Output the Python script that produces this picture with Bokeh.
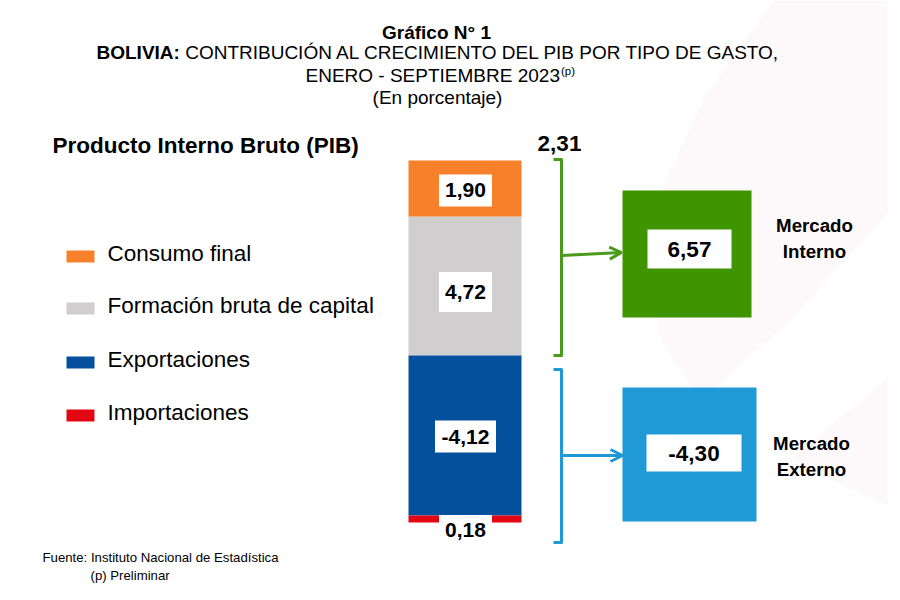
from bokeh.plotting import figure
from bokeh.models import Range1d, Arrow, OpenHead
from bokeh.core.properties import value
from bokeh.embed import file_html
from bokeh.resources import INLINE

# ---------------- data ----------------
componentes = ["Consumo final", "Formación bruta de capital", "Exportaciones", "Importaciones"]
contribucion = [1.90, 4.72, -4.12, -0.18]
etiquetas = ["1,90", "4,72", "-4,12", "0,18"]
colores = ["#F7812B", "#D0CECF", "#05509C", "#E30613"]
mercados = ["Mercado\nInterno", "Mercado\nExterno"]
mercado_valores = [6.57, -4.30]
mercado_etiquetas = ["6,57", "-4,30"]
total_etiqueta = "2,31"

titulo1 = "Gráfico N° 1"
titulo2a = "BOLIVIA:"
titulo2b = "CONTRIBUCIÓN AL CRECIMIENTO DEL PIB POR TIPO DE GASTO,"
titulo3 = "ENERO - SEPTIEMBRE 2023"
titulo4 = "(En porcentaje)"
subtitulo = "Producto Interno Bruto (PIB)"
fuente1 = "Fuente: Instituto Nacional de Estadística"
fuente2 = "(p) Preliminar"

# ---------------- layout ----------------
W, H = 900, 600
ZERO_Y = 355.0           # page y of the zero line
POS_PX = 195.0 / 6.62    # px per unit above zero
NEG_PX = 167.0 / 4.30    # px per unit below zero
BAR_X, BAR_W = 464.5, 113

SANS = "Liberation Sans"

p = figure(width=W, height=H, x_range=Range1d(0, W), y_range=Range1d(H, 0),
           x_axis_type=None, y_axis_type=None, min_border=0,
           toolbar_location=None, output_backend="svg",
           outline_line_color=None, background_fill_color="white")
p.grid.visible = False
p.extra_y_ranges = {
    "pos": Range1d((ZERO_Y - H) / POS_PX, ZERO_Y / POS_PX),
    "neg": Range1d((ZERO_Y - H) / NEG_PX, ZERO_Y / NEG_PX),
}

# very faint background watermark
WM = "#FDF8F9"
p.patch([773, 887, 887, 790, 700, 660, 648, 660, 705],
        [0, 0, 213, 320, 400, 340, 270, 190, 95],
        fill_color=WM, line_color=None)
p.patch([887, 790, 887], [377, 460, 505], fill_color=WM, line_color=None)


def txt(x, y, s, size, bold=False, align="left", **kw):
    p.text(x=[x], y=[y], text=[s], text_align=align, text_baseline="middle",
           text_font=value(SANS), text_font_style="bold" if bold else "normal",
           text_font_size=f"{size}px", text_color="black", **kw)


# ---------------- stacked bar ----------------
pos_idx = [i for i in range(len(contribucion)) if contribucion[i] > 0][::-1]
neg_idx = [i for i in range(len(contribucion)) if contribucion[i] < 0]

segs = {}
base = 0.0
for i in pos_idx:
    segs[i] = ("pos", base, base + contribucion[i])
    base += contribucion[i]
base = 0.0
for i in neg_idx:
    segs[i] = ("neg", base + contribucion[i], base)
    base += contribucion[i]

for i, (rng, b, t) in segs.items():
    p.vbar(x=[BAR_X], width=BAR_W, bottom=[b], top=[t], fill_color=colores[i],
           line_color=None, y_range_name=rng)

label_boxes = {0: (53, 32, -2), 1: (53, 40, -6), 2: (61, 32, -1), 3: (53, 29, 0)}
for i, (rng, b, t) in segs.items():
    w, h, dy = label_boxes[i]
    yc = (b + t) / 2
    if i == 3:
        yc = b - 7 / NEG_PX  # label sits just under the thin red segment
    elif rng == "pos":
        yc = yc + dy / POS_PX
    else:
        yc = yc + dy / NEG_PX
    p.rect(x=[BAR_X + 0.5], y=[yc], width=w, height=h, width_units="screen",
           height_units="screen", fill_color="white", line_color=None, y_range_name=rng)
    p.text(x=[BAR_X + 0.5], y=[yc], text=[etiquetas[i]], text_align="center",
           text_baseline="middle", text_font=value(SANS), text_font_style="bold",
           text_font_size="21px", text_color="black", y_range_name=rng)

txt(559, 143, total_etiqueta, 22.5, bold=True, align="center")

# ---------------- brackets & arrows ----------------
GREEN_L, BLUE_L = "#4A9A1C", "#1F98D6"
p.line([553, 561, 561, 553], [159, 159, 355, 355], line_color=GREEN_L, line_width=3, line_join="round")
p.add_layout(Arrow(end=OpenHead(size=12, line_color=GREEN_L, line_width=3),
                   x_start=561, y_start=255, x_end=621, y_end=252,
                   line_color=GREEN_L, line_width=3))
p.line([553, 561, 561, 553], [369, 369, 542, 542], line_color=BLUE_L, line_width=3, line_join="round")
p.add_layout(Arrow(end=OpenHead(size=12, line_color=BLUE_L, line_width=3),
                   x_start=561, y_start=455, x_end=622, y_end=455,
                   line_color=BLUE_L, line_width=3))

# ---------------- market boxes ----------------
box_cfg = [
    dict(l=622, r=751, t=190, b=317, color="#3F9500", il=647, ir=731, it=229, ib=268, tx=814, ty=238),
    dict(l=622, r=756, t=387, b=521, color="#1F9AD6", il=646, ir=741, it=434, ib=471, tx=811, ty=456),
]
for k, cfg in enumerate(box_cfg):
    p.quad(left=[cfg["l"]], right=[cfg["r"]], top=[cfg["t"]], bottom=[cfg["b"]],
           fill_color=cfg["color"], line_color=None)
    p.quad(left=[cfg["il"]], right=[cfg["ir"]], top=[cfg["it"]], bottom=[cfg["ib"]],
           fill_color="white", line_color=None)
    txt((cfg["il"] + cfg["ir"]) / 2, (cfg["it"] + cfg["ib"]) / 2, mercado_etiquetas[k], 22.5,
        bold=True, align="center")
    txt(cfg["tx"], cfg["ty"], mercados[k], 18.7, bold=True, align="center", text_line_height=1.2)

# ---------------- legend ----------------
leg_y = [256, 308, 362, 415]
for i, yy in enumerate(leg_y):
    p.quad(left=[66], right=[94], top=[yy - 6], bottom=[yy + 6], fill_color=colores[i], line_color=None)
    txt(107, yy - 3, componentes[i], 22.5)

txt(52, 145, subtitulo, 22.5, bold=True)

# ---------------- titles ----------------
TS = 19
txt(436, 32, titulo1, TS, bold=True, align="center")
txt(96, 52, titulo2a, TS, bold=True)
txt(96 + 4.667 * TS, 52, titulo2b, TS)
txt(305, 75, titulo3, TS)
txt(305 + 13.393 * TS + 1, 70, "(p)", 11.5)
txt(437, 97, titulo4, TS, align="center")

# ---------------- footer ----------------
txt(42, 557, fuente1, 13.2)
txt(90, 575, fuente2, 13.2)

open("out.html", "w").write(file_html(p, INLINE))
